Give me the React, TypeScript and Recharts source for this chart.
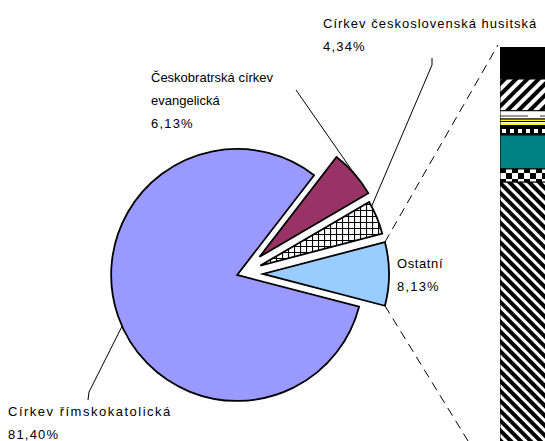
import React from 'react';
import { PieChart, Pie, Cell, BarChart, Bar, XAxis, YAxis, Sector } from 'recharts';

// podíly církví (%)
const churches = ['Ostatní', 'Církev československá husitská', 'Českobratrská církev evangelická', 'Církev římskokatolická'];
const shares = [8.13, 4.34, 6.13, 81.4];
const shareLabels = ['8,13%', '4,34%', '6,13%', '81,40%'];
const labelLines = [['Ostatní'], ['Církev československá husitská'], ['Českobratrská církev', 'evangelická'], ['Církev římskokatolická']];

// rozpad "Ostatní" ve sloupci (odspodu nahoru)
const otherParts = ['o1', 'o2', 'o3', 'o4', 'o5', 'o6', 'o7', 'o8'];
const otherValues = [5.67, 0.24, 0.62, 0.16, 0.13, 0.15, 0.58, 0.58];

const pieData = churches.map((name, i) => ({ name, value: shares[i], label: shareLabels[i] }));
const barRow: Record<string, number | string> = { name: 'Ostatní' };
otherParts.forEach((k, i) => (barRow[k] = otherValues[i]));

const FONT = '"Liberation Sans", Arial, sans-serif';
const RAD = Math.PI / 180;
const PIE_FILLS = ['#99ccff', 'url(#cross)', '#993366', '#9999ff'];
const EXPLODE = [23, 22, 26, 3];
const BAR_FILLS = ['url(#downDiag)', 'url(#checker)', '#008080', 'url(#dots)', 'url(#yellowLines)', 'url(#greyLine)', 'url(#upDiag)', '#000000'];
const BAR_LEFT = 500;
const BAR_TOP = 47;
const BAR_W = 70;
const BAR_H = 446;

const LABEL_LAYOUT = [
  { x: 397, y: 268, spacing: 0.6, leader: null as number[][] | null, angle: 0 },
  { x: 323, y: 28, spacing: 1.0, leader: [[432, 58], [432, 65]], angle: 28 },
  { x: 151, y: 82, spacing: 0, leader: [[296, 90]], angle: 41 },
  { x: 8, y: 416, spacing: 1.5, leader: [[88, 400], [89, 392]], angle: 204 },
];

const offsetCenter = (cx: number, cy: number, mid: number, d: number) => [cx + d * Math.cos(-mid * RAD), cy + d * Math.sin(-mid * RAD)];

const renderSector = (props: any) => {
  const idx = pieData.findIndex((d) => d.name === props.name || d.name === props.payload?.name);
  const [ox, oy] = offsetCenter(props.cx, props.cy, props.midAngle, EXPLODE[idx] ?? 0);
  return <Sector {...props} cx={ox} cy={oy} />;
};

const renderLabel = (props: any) => {
  const { cx, cy, outerRadius, midAngle, startAngle, endAngle, index } = props;
  const lay = LABEL_LAYOUT[index];
  const [ox, oy] = offsetCenter(cx, cy, midAngle, EXPLODE[index]);
  const pt = (a: number) => [ox + outerRadius * Math.cos(-a * RAD), oy + outerRadius * Math.sin(-a * RAD)];
  const names = labelLines[index];
  let leader = null;
  if (lay.leader) {
    const pts = [...lay.leader, pt(lay.angle)];
    leader = <polyline points={pts.map((p) => p.join(',')).join(' ')} fill="none" stroke="#000" strokeWidth={1} />;
  }
  let connectors = null;
  if (index === 0) {
    const top = pt(endAngle);
    const bot = pt(startAngle);
    connectors = (
      <g stroke="#000" strokeWidth={1} strokeDasharray="9 6">
        <line x1={top[0]} y1={top[1]} x2={BAR_LEFT - 2} y2={BAR_TOP - 2} />
        <line x1={bot[0]} y1={bot[1]} x2={BAR_LEFT} y2={BAR_TOP + BAR_H} />
      </g>
    );
  }
  return (
    <g key={`lbl-${index}`}>
      {connectors}
      {leader}
      <text x={lay.x} y={lay.y} fontFamily={FONT} fontSize={13} fill="#000">
        {names.map((t, i) => (
          <tspan key={i} x={lay.x} dy={i === 0 ? 0 : 23} letterSpacing={lay.spacing}>
            {t}
          </tspan>
        ))}
        <tspan x={lay.x} dy={23} letterSpacing={1.2}>
          {shareLabels[index]}
        </tspan>
      </text>
    </g>
  );
};

function Patterns() {
  return (
    <defs>
      <pattern id="cross" width="6" height="6" patternUnits="userSpaceOnUse">
        <rect width="6" height="6" fill="#fff" />
        <path d="M0 0.5H6M0.5 0V6" stroke="#000" strokeWidth="1.2" />
      </pattern>
      <pattern id="upDiag" width="8" height="8" patternUnits="userSpaceOnUse" patternTransform="rotate(45)">
        <rect width="8" height="8" fill="#fff" />
        <rect width="4" height="8" fill="#000" />
      </pattern>
      <pattern id="downDiag" width="7" height="7" patternUnits="userSpaceOnUse" patternTransform="rotate(-45)">
        <rect width="7" height="7" fill="#fff" />
        <rect width="4" height="7" fill="#000" />
      </pattern>
      <pattern id="greyLine" width="40" height="8" patternUnits="userSpaceOnUse">
        <rect width="40" height="8" fill="#fff" />
        <rect y="4" width="28" height="2" fill="#999" />
      </pattern>
      <pattern id="yellowLines" width="8" height="4" patternUnits="userSpaceOnUse">
        <rect width="8" height="4" fill="#fff" />
        <rect width="8" height="2" fill="#ffff00" />
        <rect y="2" width="8" height="1" fill="#000" />
      </pattern>
      <pattern id="dots" width="8" height="8" patternUnits="userSpaceOnUse">
        <rect width="8" height="8" fill="#000" />
        <rect x="2" y="2" width="4" height="4" fill="#fff" />
      </pattern>
      <pattern id="checker" width="12" height="12" patternUnits="userSpaceOnUse">
        <rect width="12" height="12" fill="#fff" />
        <rect width="6" height="6" fill="#000" />
        <rect x="6" y="6" width="6" height="6" fill="#000" />
      </pattern>
    </defs>
  );
}

export default function App() {
  return (
    <div style={{ position: 'absolute', left: 0, top: 0, width: 545, height: 441, overflow: 'hidden', background: '#fff' }}>
      <div style={{ position: 'absolute', left: 0, top: 0 }}>
        <PieChart width={545} height={441} margin={{ top: 0, right: 0, bottom: 0, left: 0 }}>
          <Patterns />
          <Pie
            data={pieData}
            dataKey="value"
            nameKey="name"
            cx={240}
            cy={274}
            outerRadius={126}
            startAngle={-14.6}
            endAngle={345.4}
            stroke="#000"
            strokeWidth={1.8}
            label={renderLabel}
            labelLine={false}
            shape={renderSector}
            activeShape={renderSector}
            inactiveShape={renderSector}
            isAnimationActive={false}
          >
            {pieData.map((d, i) => (
              <Cell key={d.name} fill={PIE_FILLS[i]} />
            ))}
          </Pie>
        </PieChart>
      </div>
      <div style={{ position: 'absolute', left: BAR_LEFT, top: BAR_TOP }}>
        <BarChart width={BAR_W} height={BAR_H} data={[barRow]} margin={{ top: 0, right: 0, bottom: 0, left: 0 }} barCategoryGap={0}>
          <Patterns />
          <XAxis dataKey="name" hide />
          <YAxis hide domain={[0, 8.13]} />
          {otherParts.map((k, i) => (
            <Bar key={k} dataKey={k} stackId="o" fill={BAR_FILLS[i]} stroke="#000" strokeWidth={1} isAnimationActive={false} />
          ))}
        </BarChart>
      </div>
    </div>
  );
}
